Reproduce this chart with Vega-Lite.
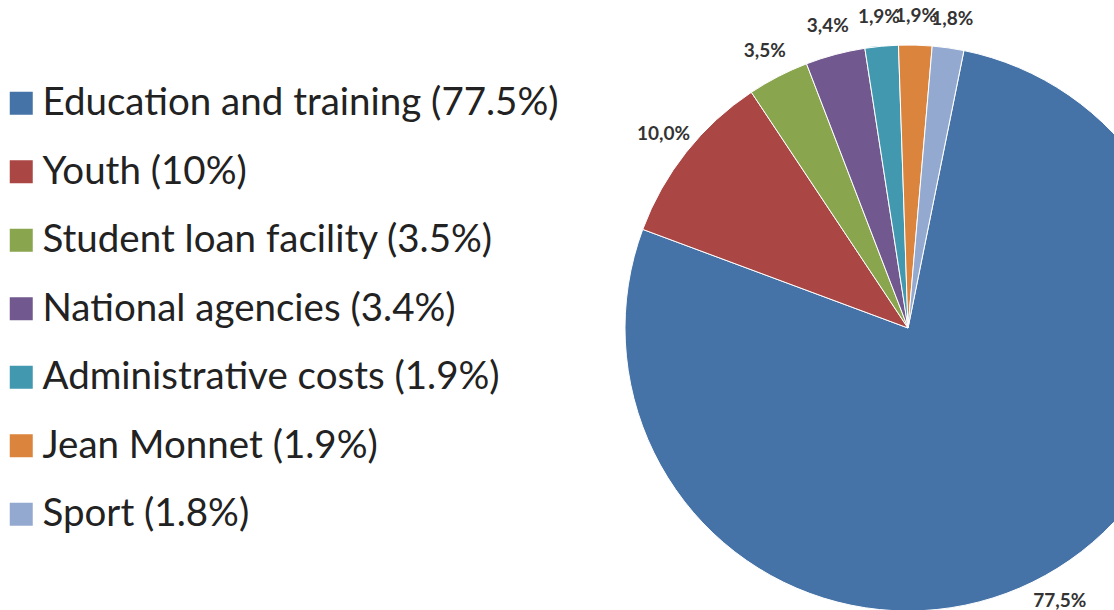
{
  "$schema": "https://vega.github.io/schema/vega-lite/v6.json",
  "width": 566,
  "height": 566,
  "autosize": {"type": "none"},
  "padding": {"left": 625, "top": 45, "right": 0, "bottom": 0},
  "background": "white",
  "data": {
    "values": [
      {"category": "Education and training (77.5%)", "share": 77.5, "label": "77,5%", "order": 1},
      {"category": "Youth (10%)", "share": 10.0, "label": "10,0%", "order": 2},
      {"category": "Student loan facility (3.5%)", "share": 3.5, "label": "3,5%", "order": 3},
      {"category": "National agencies (3.4%)", "share": 3.4, "label": "3,4%", "order": 4},
      {"category": "Administrative costs (1.9%)", "share": 1.9, "label": "1,9%", "order": 5},
      {"category": "Jean Monnet (1.9%)", "share": 1.9, "label": "1,9%", "order": 6},
      {"category": "Sport (1.8%)", "share": 1.8, "label": "1,8%", "order": 7}
    ]
  },
  "encoding": {
    "theta": {"field": "share", "type": "quantitative", "stack": true, "scale": {"range": [0.199, 6.482]}},
    "order": {"field": "order", "type": "quantitative", "sort": "ascending"}
  },
  "layer": [
    {
      "mark": {"type": "arc", "outerRadius": 283, "stroke": "white", "strokeWidth": 1},
      "encoding": {
        "color": {
          "field": "category",
          "type": "nominal",
          "scale": {
            "domain": ["Education and training (77.5%)", "Youth (10%)", "Student loan facility (3.5%)", "National agencies (3.4%)", "Administrative costs (1.9%)", "Jean Monnet (1.9%)", "Sport (1.8%)"],
            "range": ["#4572A7", "#AA4643", "#89A54E", "#71588F", "#4198AF", "#DB843D", "#93A9CF"]
          },
          "legend": {
            "title": null,
            "orient": "none",
            "legendX": -623,
            "legendY": 39,
            "symbolType": "square",
            "symbolSize": 529,
            "symbolStrokeWidth": 0,
            "labelFont": "Lato",
            "labelFontSize": 38.5,
            "labelColor": "#222222",
            "labelLimit": 1000,
            "labelOffset": 2,
            "rowPadding": 29.5,
            "padding": 0
          }
        }
      }
    },
    {
      "mark": {"type": "text", "radius": 312, "font": "Lato", "fontSize": 19, "fontWeight": "bold", "fill": "#333333", "align": "center", "baseline": "middle"},
      "encoding": {"text": {"field": "label", "type": "nominal"}}
    }
  ],
  "config": {"view": {"stroke": null}}
}
